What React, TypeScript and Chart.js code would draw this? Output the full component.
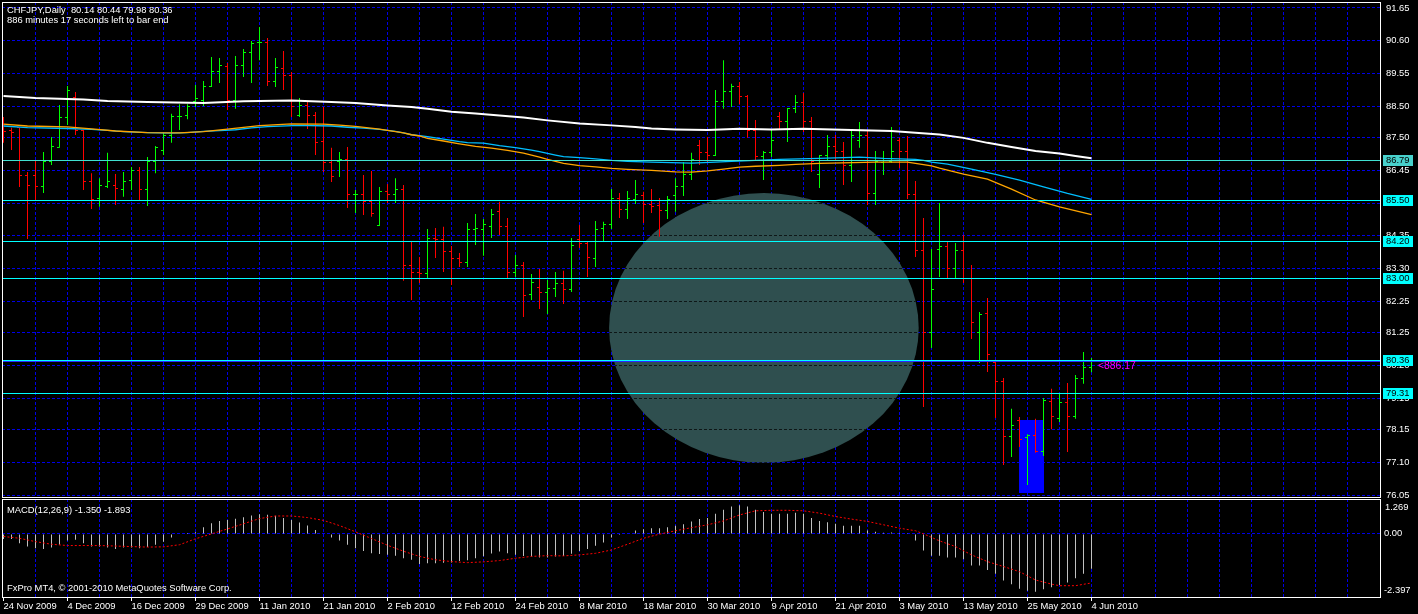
import React, { useEffect, useRef } from 'react';
import { Chart, registerables } from 'chart.js';

Chart.register(...registerables);

const FONT = '"Liberation Sans", Arial, sans-serif';
const FS = 9.4;
const GRID = '#0000e6';
const UP = '#00ff00';
const DOWN = '#ff0000';
const ELLIPSE = '#2f4f4f';

// ---- data ----
const dateLabels = ['24 Nov 2009', '4 Dec 2009', '16 Dec 2009', '29 Dec 2009', '11 Jan 2010', '21 Jan 2010', '2 Feb 2010', '12 Feb 2010', '24 Feb 2010', '8 Mar 2010', '18 Mar 2010', '30 Mar 2010', '9 Apr 2010', '21 Apr 2010', '3 May 2010', '13 May 2010', '25 May 2010', '4 Jun 2010'];

const opens = [87.90, 87.71, 87.81, 86.30, 86.27, 85.92, 86.72, 87.17, 88.13, 88.77,
  87.74, 86.08, 85.56, 85.92, 85.98, 85.85, 86.11, 86.43, 85.85, 86.72,
  87.07, 87.58, 88.16, 88.22, 88.67, 88.70, 89.12, 89.63, 89.79, 88.70,
  89.82, 90.21, 90.53, 90.56, 89.28, 89.70, 89.50, 88.22, 88.54, 88.22,
  87.36, 86.69, 86.72, 86.81, 85.66, 85.69, 85.44, 84.67, 85.76, 85.66,
  85.85, 83.39, 83.19, 83.13, 84.28, 84.22, 83.84, 83.64, 83.51, 84.54,
  84.57, 84.64, 85.12, 84.64, 83.19, 83.39, 82.46, 82.71, 82.55, 82.65,
  82.81, 82.62, 84.25, 84.12, 83.64, 84.60, 84.70, 85.56, 85.18, 85.53,
  85.63, 85.37, 85.31, 85.15, 85.63, 85.92, 86.33, 87.26, 87.01, 86.94,
  88.64, 88.96, 89.15, 88.80, 87.74, 86.88, 87.01, 88.19, 88.00, 88.42,
  88.61, 88.00, 86.33, 86.91, 87.20, 87.04, 86.62, 87.42, 87.58, 85.72,
  86.69, 86.72, 87.42, 87.04, 85.69, 83.87, 81.27, 83.93, 84.00, 83.29,
  83.87, 82.97, 81.27, 81.85, 80.31, 79.67, 77.91, 78.45, 77.88, 77.97,
  77.43, 79.06, 78.49, 79.00, 78.55, 79.77, 80.14];

const highs = [88.16, 87.81, 87.81, 86.40, 86.75, 87.04, 87.52, 88.54, 89.15, 88.96,
  87.74, 86.36, 86.20, 87.01, 86.33, 86.40, 86.56, 86.56, 86.88, 87.23,
  87.65, 88.26, 88.57, 88.57, 89.18, 89.31, 90.08, 90.05, 89.89, 90.11,
  90.34, 90.59, 91.04, 90.69, 90.05, 90.27, 89.60, 88.77, 88.64, 88.32,
  88.48, 87.17, 87.04, 87.20, 85.82, 86.30, 86.43, 85.92, 86.01, 86.20,
  85.98, 84.16, 83.67, 84.57, 84.60, 84.64, 84.03, 83.80, 84.76, 85.05,
  84.89, 85.21, 85.44, 84.92, 83.74, 83.51, 83.13, 83.29, 82.94, 83.19,
  83.23, 84.28, 84.70, 84.16, 84.83, 84.80, 85.85, 85.72, 85.79, 86.14,
  85.76, 85.85, 85.56, 85.63, 86.20, 86.72, 87.01, 87.42, 87.52, 89.02,
  89.98, 89.22, 89.28, 88.86, 88.06, 87.07, 87.74, 88.32, 88.45, 88.86,
  88.93, 88.16, 86.94, 87.58, 87.58, 87.36, 87.74, 88.00, 87.71, 87.07,
  87.07, 87.84, 87.49, 87.55, 86.11, 84.92, 83.93, 85.40, 84.16, 84.12,
  84.38, 83.42, 81.91, 82.36, 80.38, 79.80, 78.81, 78.55, 78.00, 78.49,
  79.16, 79.45, 79.32, 79.64, 79.89, 80.63, 80.44];

const lows = [87.33, 87.10, 85.92, 84.25, 85.50, 85.72, 86.62, 87.17, 87.90, 87.58,
  85.82, 85.21, 85.28, 85.88, 85.34, 85.60, 85.82, 85.50, 85.31, 86.36,
  86.94, 87.33, 87.74, 88.09, 88.48, 88.51, 89.12, 89.25, 88.38, 88.42,
  89.44, 89.25, 89.98, 89.15, 89.12, 89.02, 88.16, 88.16, 87.77, 86.94,
  86.40, 86.08, 86.24, 85.24, 85.08, 85.02, 84.96, 84.67, 85.40, 85.40,
  82.91, 82.30, 82.84, 83.00, 83.64, 83.19, 82.78, 83.35, 83.35, 84.06,
  83.71, 84.28, 84.38, 83.00, 83.03, 81.75, 82.30, 82.01, 81.85, 82.39,
  82.17, 82.55, 83.96, 83.03, 83.35, 84.19, 84.57, 84.92, 84.89, 85.37,
  84.76, 85.08, 84.32, 84.89, 85.12, 85.63, 86.14, 86.62, 86.69, 86.91,
  88.42, 88.48, 88.57, 87.49, 86.78, 86.14, 86.88, 87.74, 87.36, 88.29,
  87.68, 86.40, 85.88, 86.78, 86.75, 85.98, 86.08, 87.17, 85.34, 85.34,
  86.30, 86.69, 86.52, 85.53, 83.67, 78.87, 80.76, 83.03, 82.97, 83.00,
  82.84, 81.05, 80.28, 79.99, 78.52, 77.01, 77.27, 77.59, 76.37, 77.40,
  77.30, 78.16, 78.39, 77.43, 78.49, 79.61, 79.98];

const closes = [87.68, 87.65, 86.30, 85.98, 85.92, 86.72, 87.20, 88.13, 89.02, 87.74,
  86.08, 85.53, 85.95, 86.08, 85.88, 86.08, 86.43, 85.85, 86.72, 87.17,
  87.55, 88.16, 88.19, 88.51, 88.74, 89.15, 89.63, 89.82, 88.70, 89.82,
  90.21, 90.50, 90.56, 89.28, 89.73, 89.50, 88.51, 88.54, 88.22, 87.33,
  86.69, 86.24, 86.81, 85.66, 85.69, 85.44, 85.08, 85.76, 85.66, 85.85,
  83.39, 83.19, 83.13, 84.28, 84.22, 83.84, 83.61, 83.51, 84.54, 84.60,
  84.70, 85.05, 84.64, 83.19, 83.39, 82.43, 82.87, 82.55, 82.65, 82.81,
  82.62, 84.03, 84.12, 83.67, 84.57, 84.70, 85.56, 85.21, 85.56, 85.66,
  85.37, 85.28, 85.15, 85.53, 85.92, 86.33, 86.81, 87.01, 86.94, 88.64,
  88.96, 89.12, 88.80, 87.74, 86.88, 87.01, 87.39, 88.00, 88.42, 88.61,
  88.03, 86.72, 86.91, 87.20, 87.04, 86.62, 87.58, 87.55, 85.72, 86.72,
  86.75, 87.04, 87.04, 85.69, 83.87, 81.24, 82.62, 84.00, 83.32, 83.87,
  82.97, 81.59, 81.82, 80.54, 79.67, 77.91, 78.29, 77.84, 77.97, 77.43,
  79.09, 78.55, 79.00, 78.58, 79.77, 80.15, 80.36];

// moving averages: [bar index, price]
const maWhite = [[0, 88.83], [4, 88.77], [10, 88.72], [13, 88.67], [18, 88.64], [25, 88.61], [30, 88.66], [36, 88.69], [41, 88.64], [44, 88.61], [46, 88.57], [48, 88.53], [51, 88.48], [53, 88.42], [56, 88.33], [59, 88.27], [62, 88.21], [65, 88.14], [68, 88.05], [72, 87.95], [76, 87.89], [79, 87.84], [81, 87.79], [84, 87.76], [88, 87.74], [92, 87.78], [96, 87.76], [100, 87.78], [106, 87.74], [111, 87.71], [114, 87.65], [117, 87.60], [120, 87.49], [123, 87.33], [126, 87.20], [129, 87.07], [132, 86.99], [134, 86.91], [136, 86.84]];

const maOrange = [[0, 87.93], [3, 87.87], [8, 87.84], [11, 87.78], [14, 87.71], [18, 87.66], [22, 87.65], [25, 87.69], [28, 87.77], [32, 87.88], [36, 87.94], [40, 87.93], [42, 87.90], [44, 87.86], [47, 87.77], [49, 87.69], [50, 87.65], [51, 87.59], [52, 87.55], [53, 87.47], [55, 87.39], [57, 87.30], [59, 87.22], [61, 87.16], [63, 87.09], [65, 87.00], [66, 86.94], [67, 86.87], [68, 86.80], [69, 86.74], [70, 86.67], [72, 86.60], [74, 86.56], [76, 86.51], [78, 86.48], [81, 86.45], [84, 86.40], [86, 86.39], [88, 86.43], [90, 86.49], [91, 86.52], [92, 86.55], [94, 86.58], [97, 86.61], [99, 86.64], [102, 86.67], [109, 86.71], [113, 86.71], [114, 86.67], [115, 86.63], [116, 86.59], [117, 86.52], [120, 86.33], [123, 86.17], [126, 85.85], [129, 85.50], [132, 85.28], [136, 85.03]];

const maBlue = [[0, 87.87], [3, 87.82], [8, 87.79], [11, 87.76], [13, 87.73], [15, 87.69], [18, 87.66], [21, 87.64], [23, 87.66], [25, 87.70], [27, 87.72], [29, 87.75], [31, 87.81], [33, 87.85], [37, 87.89], [41, 87.87], [43, 87.83], [45, 87.80], [47, 87.76], [48, 87.73], [49, 87.70], [50, 87.65], [51, 87.59], [52, 87.56], [53, 87.53], [54, 87.49], [55, 87.45], [56, 87.41], [57, 87.37], [58, 87.34], [60, 87.32], [61, 87.28], [62, 87.24], [63, 87.21], [64, 87.18], [65, 87.14], [66, 87.10], [67, 87.05], [68, 86.99], [69, 86.94], [70, 86.89], [72, 86.86], [74, 86.82], [76, 86.77], [78, 86.74], [81, 86.71], [86, 86.68], [89, 86.71], [91, 86.74], [94, 86.77], [97, 86.80], [102, 86.83], [107, 86.87], [110, 86.83], [114, 86.80], [115, 86.77], [116, 86.71], [118, 86.65], [121, 86.49], [124, 86.32], [127, 86.14], [130, 85.92], [133, 85.71], [136, 85.52]];

const macdHist = [-0.20, -0.20, -0.36, -0.49, -0.55, -0.58, -0.53, -0.42, -0.26, -0.23,
  -0.36, -0.49, -0.49, -0.53, -0.58, -0.53, -0.53, -0.55, -0.51, -0.42,
  -0.30, -0.14, -0.02, 0.03, 0.06, 0.26, 0.41, 0.50, 0.54, 0.58,
  0.64, 0.71, 0.76, 0.74, 0.70, 0.61, 0.54, 0.44, 0.32, 0.15,
  0.01, -0.14, -0.26, -0.42, -0.55, -0.66, -0.75, -0.78, -0.81, -0.84,
  -0.94, -1.00, -1.16, -1.13, -1.13, -1.11, -1.10, -1.05, -1.02, -0.94,
  -0.86, -0.76, -0.68, -0.75, -0.81, -0.85, -0.87, -0.91, -0.91, -0.87,
  -0.85, -0.77, -0.66, -0.58, -0.46, -0.33, -0.14, -0.04, 0.01, 0.13,
  0.18, 0.22, 0.22, 0.26, 0.31, 0.37, 0.48, 0.57, 0.61, 0.78,
  0.93, 1.06, 1.10, 1.06, 0.93, 0.84, 0.78, 0.78, 0.78, 0.82,
  0.78, 0.61, 0.50, 0.45, 0.39, 0.31, 0.31, 0.31, 0.13, 0.08,
  0.04, 0.05, 0.04, 0.02, -0.26, -0.64, -0.84, -0.84, -0.91, -0.91,
  -0.98, -1.22, -1.22, -1.39, -1.54, -1.80, -1.94, -2.12, -2.19, -2.23,
  -2.14, -2.06, -1.97, -1.88, -1.71, -1.54, -1.35];

const macdSignal = [[0, -0.10], [2, -0.17], [4, -0.30], [6, -0.40], [8, -0.45], [12, -0.45], [16, -0.49], [18, -0.51], [20, -0.50], [22, -0.42], [24, -0.19], [26, 0.00], [28, 0.19], [30, 0.39], [32, 0.59], [34, 0.69], [36, 0.69], [38, 0.63], [40, 0.52], [42, 0.32], [44, 0.08], [46, -0.18], [48, -0.44], [50, -0.67], [52, -0.87], [54, -1.00], [56, -1.07], [58, -1.11], [60, -1.08], [62, -1.03], [64, -0.94], [66, -0.87], [68, -0.84], [70, -0.85], [72, -0.81], [74, -0.75], [76, -0.62], [78, -0.40], [80, -0.17], [82, -0.01], [84, 0.12], [86, 0.24], [88, 0.35], [90, 0.50], [92, 0.73], [94, 0.89], [96, 0.91], [98, 0.91], [100, 0.89], [102, 0.80], [104, 0.67], [106, 0.57], [108, 0.48], [110, 0.35], [112, 0.22], [114, 0.12], [115, 0.00], [117, -0.27], [119, -0.49], [121, -0.81], [123, -1.07], [125, -1.26], [127, -1.46], [129, -1.78], [131, -1.94], [132, -2.00], [134, -2.00], [136, -1.893]];

const priceTickLabels = ['91.65', '90.60', '89.55', '88.50', '87.50', '86.45', '85.40', '84.35', '83.30', '82.25', '81.25', '80.20', '79.15', '78.15', '77.10', '76.05'];
const priceMax = 91.842;
const priceMin = 75.986;
const macdMax = 1.346;
const macdMin = -2.436;
const macdExtremes = [1.269, -2.397];
const xMin = -0.1875;
const xMax = 172.0625;
const barsPerGrid = 4;
const barsPerLabel = 8;
const lastGridBar = 168;

const hlinePrices = [86.79, 85.50, 84.20, 83.00, 80.36, 79.31];
const hlineColors = ['#40e0d0', '#00ffff', '#00ffff', '#00ffff', '#00ffff', '#00ffff'];
const hlineBoxColors = ['#48d1cc', '#00ffff', '#00ffff', '#00ffff', '#00ffff', '#00ffff'];
const bidPrice = 80.36;
const ellipseBars = [75.7, 114.4];
const ellipsePrices = [85.72, 77.08];
const rectBars = [127, 130];
const rectPrices = [78.46, 76.12];
const timerNote = { bar: 136.8, price: 80.17, text: '<886.17' };
const titleLines = ['CHFJPY,Daily  80.14 80.44 79.98 80.36', '886 minutes 17 seconds left to bar end'];
const macdTitle = 'MACD(12,26,9) -1.350 -1.893';
const copyright = 'FxPro MT4, \u00a9 2001-2010 MetaQuotes Software Corp.';

// ---- helpers ----
const gridTicks = (withZero: boolean) => {
  const out: any[] = [];
  for (let v = withZero ? 0 : barsPerGrid; v <= lastGridBar; v += barsPerGrid) out.push({ value: v });
  return out;
};
const labelFor = (v: number) => {
  if (v % barsPerLabel === 0 && v / barsPerLabel < dateLabels.length) return dateLabels[v / barsPerLabel];
  return '';
};
const isUp = (i: number) => closes[i] >= opens[i];

function tickImage(color: string, side: string) {
  const c = document.createElement('canvas');
  c.width = 5;
  c.height = 1;
  const g = c.getContext('2d')!;
  g.fillStyle = color;
  g.fillRect(side === 'open' ? 0 : 3, 0, 2, 1);
  return c;
}

const zeroPad = (s: any) => {
  s.paddingTop = 0;
  s.paddingBottom = 0;
  s.paddingLeft = 0;
  s.paddingRight = 0;
};

function ellipseGeom(chart: any) {
  const xs = chart.scales.x;
  const ys = chart.scales.y;
  const ex1 = xs.getPixelForValue(ellipseBars[0]);
  const ex2 = xs.getPixelForValue(ellipseBars[1]);
  const ey1 = ys.getPixelForValue(ellipsePrices[0]);
  const ey2 = ys.getPixelForValue(ellipsePrices[1]);
  return { cx: (ex1 + ex2) / 2, cy: (ey1 + ey2) / 2, rx: Math.abs(ex2 - ex1) / 2, ry: Math.abs(ey2 - ey1) / 2, x1: ex1, x2: ex2 };
}

// vertical grid of the price panel, painted on a layer beneath the chart canvas
function makeUnderGrid(layer: HTMLCanvasElement) {
  return {
    id: 'underGrid',
    afterDraw(chart: any) {
      const g = layer.getContext('2d')!;
      const xs = chart.scales.x;
      const a = chart.chartArea;
      g.clearRect(0, 0, layer.width, layer.height);
      g.fillStyle = GRID;
      gridTicks(false).forEach((t: any) => {
        const px = Math.round(xs.getPixelForValue(t.value) - 0.5);
        for (let y = Math.ceil(a.top); y < a.bottom; y += 5) g.fillRect(px, y, 1, Math.min(3, a.bottom - y));
      });
    },
  };
}

const mainPlugin = {
  id: 'mainDecor',
  beforeDatasetsDraw(chart: any) {
    const { ctx, chartArea: a } = chart;
    const xs = chart.scales.x;
    const ys = chart.scales.y;
    const e = ellipseGeom(chart);
    ctx.save();
    ctx.beginPath();
    ctx.rect(a.left, a.top, a.right - a.left, a.bottom - a.top);
    ctx.clip();
    ctx.beginPath();
    ctx.ellipse(e.cx, e.cy, e.rx, e.ry, 0, 0, Math.PI * 2);
    ctx.fillStyle = ELLIPSE;
    ctx.fill();
    ctx.save();
    ctx.clip();
    ctx.fillStyle = 'rgba(0,0,0,0.7)';
    priceTickLabels.forEach((t) => {
      const py = Math.round(ys.getPixelForValue(parseFloat(t)) - 0.5);
      for (let x = Math.floor(e.x1); x < e.x2; x += 5) ctx.fillRect(x, py, 3, 1);
    });
    ctx.restore();
    const rx1 = Math.floor(xs.getPixelForValue(rectBars[0]));
    const rx2 = Math.ceil(xs.getPixelForValue(rectBars[1]));
    const ry1 = Math.round(ys.getPixelForValue(rectPrices[0]));
    const ry2 = Math.round(ys.getPixelForValue(rectPrices[1]));
    ctx.fillStyle = '#0000ff';
    ctx.fillRect(rx1, ry1, rx2 - rx1, ry2 - ry1);
    ctx.restore();
  },
  afterDatasetsDraw(chart: any) {
    const { ctx, chartArea: a } = chart;
    const xs = chart.scales.x;
    const ys = chart.scales.y;
    ctx.save();
    ctx.beginPath();
    ctx.rect(a.left, a.top, a.right - a.left, a.bottom - a.top);
    ctx.clip();
    hlinePrices.forEach((p, k) => {
      const row = Math.round(ys.getPixelForValue(p));
      ctx.fillStyle = hlineColors[k];
      ctx.fillRect(a.left, row, a.right - a.left, 1);
    });
    const bidRow = Math.round(ys.getPixelForValue(bidPrice));
    ctx.fillStyle = '#2a2aff';
    ctx.fillRect(a.left, bidRow + 1, a.right - a.left, 1);
    ctx.fillStyle = '#ff00ff';
    ctx.font = `10.4px ${FONT}`;
    ctx.textBaseline = 'middle';
    ctx.textAlign = 'left';
    ctx.fillText(timerNote.text, xs.getPixelForValue(timerNote.bar), ys.getPixelForValue(timerNote.price));
    ctx.restore();
  },
  afterDraw(chart: any) {
    const { ctx, chartArea: a } = chart;
    const ys = chart.scales.y;
    ctx.save();
    ctx.font = `${FS}px ${FONT}`;
    ctx.textBaseline = 'middle';
    ctx.textAlign = 'left';
    hlinePrices.forEach((p, k) => {
      const row = Math.round(ys.getPixelForValue(p));
      ctx.fillStyle = hlineBoxColors[k];
      ctx.fillRect(a.right + 3, row - 5, 30, 11);
      ctx.fillStyle = '#000';
      ctx.fillText(p.toFixed(2), a.right + 6, row + 0.5);
    });
    ctx.fillStyle = '#ffffff';
    ctx.fillText(titleLines[0], 7, 10.5);
    ctx.fillText(titleLines[1], 7, 20.5);
    ctx.strokeStyle = '#ffffff';
    ctx.lineWidth = 1;
    ctx.setLineDash([]);
    ctx.strokeRect(a.left + 0.5, a.top + 0.5, a.right - a.left, a.bottom - a.top);
    ctx.restore();
  },
};

const macdPlugin = {
  id: 'macdDecor',
  afterDraw(chart: any) {
    const { ctx, chartArea: a } = chart;
    const ys = chart.scales.y;
    ctx.save();
    ctx.font = `${FS}px ${FONT}`;
    ctx.textBaseline = 'middle';
    ctx.textAlign = 'left';
    ctx.fillStyle = '#ffffff';
    ctx.fillText(macdTitle, 7, 11);
    ctx.fillText(copyright, 7, 89.5);
    ctx.fillText(macdExtremes[0].toFixed(3), a.right + 5, ys.getPixelForValue(macdExtremes[0]) + 6);
    ctx.fillText(macdExtremes[1].toFixed(3), a.right + 4, ys.getPixelForValue(macdExtremes[1]) - 6);
    ctx.strokeStyle = '#ffffff';
    ctx.lineWidth = 1;
    ctx.setLineDash([]);
    ctx.strokeRect(a.left + 0.5, a.top + 0.5, a.right - a.left, a.bottom - a.top);
    ctx.restore();
  },
};

export default function App() {
  const gridRef = useRef<HTMLCanvasElement>(null);
  const mainRef = useRef<HTMLCanvasElement>(null);
  const macdRef = useRef<HTMLCanvasElement>(null);

  useEffect(() => {
    document.body.style.margin = '0';
    document.body.style.background = '#000';
    document.body.style.overflow = 'hidden';

    const imgs = {
      openUp: tickImage(UP, 'open'),
      openDown: tickImage(DOWN, 'open'),
      closeUp: tickImage(UP, 'close'),
      closeDown: tickImage(DOWN, 'close'),
    };

    const main = new Chart(mainRef.current!, {
      type: 'bar',
      data: {
        datasets: [
          { type: 'line', label: 'MA slow', data: maWhite.map(([x, y]) => ({ x, y })), borderColor: '#ffffff', borderWidth: 2, pointRadius: 0, tension: 0, order: 0 },
          { type: 'line', label: 'MA orange', data: maOrange.map(([x, y]) => ({ x, y })), borderColor: '#ffa500', borderWidth: 1.3, pointRadius: 0, tension: 0, order: 1 },
          { type: 'line', label: 'MA blue', data: maBlue.map(([x, y]) => ({ x, y })), borderColor: '#00bfff', borderWidth: 1.3, pointRadius: 0, tension: 0, order: 2 },
          { type: 'line', label: 'open', data: opens.map((y, i) => ({ x: i, y })), showLine: false, pointRadius: 1, pointStyle: (c: any) => (isUp(c.dataIndex) ? imgs.openUp : imgs.openDown), order: 3 },
          { type: 'line', label: 'close', data: closes.map((y, i) => ({ x: i, y })), showLine: false, pointRadius: 1, pointStyle: (c: any) => (isUp(c.dataIndex) ? imgs.closeUp : imgs.closeDown), order: 4 },
          { type: 'bar', label: 'range', data: highs.map((h, i) => ({ x: i, y: [lows[i], h] })), backgroundColor: highs.map((_, i) => (isUp(i) ? UP : DOWN)), barThickness: 1, grouped: false, inflateAmount: 0, borderWidth: 0, order: 5 },
        ] as any,
      },
      options: {
        responsive: false,
        animation: false,
        devicePixelRatio: 1,
        events: [],
        layout: { autoPadding: false, padding: { left: 2, top: 2, right: 0, bottom: 2 } },
        plugins: { legend: { display: false }, tooltip: { enabled: false } },
        scales: {
          x: {
            type: 'linear', min: xMin, max: xMax, offset: false,
            afterBuildTicks: (s: any) => { s.ticks = gridTicks(false); },
            afterFit: (s: any) => { s.height = 0; zeroPad(s); },
            grid: { display: false, drawTicks: false, offset: false },
            border: { display: false },
            ticks: { display: false },
          },
          y: {
            type: 'linear', position: 'right', min: priceMin, max: priceMax,
            afterBuildTicks: (s: any) => { s.ticks = priceTickLabels.map((t) => ({ value: parseFloat(t) })); },
            afterFit: (s: any) => { s.width = 38; zeroPad(s); },
            grid: { color: GRID, lineWidth: 1, drawTicks: false },
            border: { display: false, dash: [3, 2] },
            ticks: { color: '#ffffff', padding: 6, autoSkip: false, font: { family: FONT, size: FS, lineHeight: 0.2 }, callback: (v: any) => Number(v).toFixed(2) },
          },
        },
      } as any,
      plugins: [makeUnderGrid(gridRef.current!), mainPlugin],
    });

    const macd = new Chart(macdRef.current!, {
      type: 'bar',
      data: {
        datasets: [
          { type: 'line', label: 'Signal', data: macdSignal.map(([x, y]) => ({ x, y })), borderColor: '#ff0000', borderWidth: 1, borderDash: [2, 2], pointRadius: 0, tension: 0, order: 0 },
          { type: 'bar', label: 'MACD', data: macdHist.map((y, i) => ({ x: i, y })), backgroundColor: '#c0c0c0', barThickness: 1, grouped: false, inflateAmount: 0, borderWidth: 0, order: 1 },
        ] as any,
      },
      options: {
        responsive: false,
        animation: false,
        devicePixelRatio: 1,
        events: [],
        layout: { autoPadding: false, padding: { left: 2, top: 0, right: 0, bottom: 0 } },
        plugins: { legend: { display: false }, tooltip: { enabled: false } },
        scales: {
          x: {
            type: 'linear', min: xMin, max: xMax, offset: false,
            afterBuildTicks: (s: any) => { s.ticks = gridTicks(true); },
            afterFit: (s: any) => { s.height = 17; zeroPad(s); },
            grid: {
              color: (c: any) => (c.tick && c.tick.value === 0 ? 'rgba(0,0,0,0)' : GRID),
              lineWidth: 1, drawTicks: true, tickLength: 4, tickWidth: 1, offset: false,
              tickColor: (c: any) => (c.tick && labelFor(c.tick.value) ? '#ffffff' : 'rgba(0,0,0,0)'),
            },
            border: { display: false, dash: [3, 2] },
            ticks: { color: '#ffffff', align: 'start', padding: 0, autoSkip: false, maxRotation: 0, minRotation: 0, font: { family: FONT, size: FS }, callback: (v: any) => labelFor(Number(v)) },
          },
          y: {
            type: 'linear', position: 'right', min: macdMin, max: macdMax,
            afterBuildTicks: (s: any) => { s.ticks = [{ value: 0 }]; },
            afterFit: (s: any) => { s.width = 38; zeroPad(s); },
            grid: { color: GRID, lineWidth: 1, drawTicks: false },
            border: { display: false, dash: [3, 2] },
            ticks: { color: '#ffffff', padding: 4, autoSkip: false, font: { family: FONT, size: FS, lineHeight: 0.2 }, callback: (v: any) => Number(v).toFixed(2) },
          },
        },
      } as any,
      plugins: [macdPlugin],
    });

    return () => {
      main.destroy();
      macd.destroy();
    };
  }, []);

  return (
    <div style={{ position: 'relative', width: 1418, height: 614, background: '#000', overflow: 'hidden' }}>
      <canvas ref={gridRef} width={1418} height={499} style={{ position: 'absolute', left: 0, top: 0 }} />
      <canvas ref={mainRef} width={1418} height={499} style={{ position: 'absolute', left: 0, top: 0 }} />
      <canvas ref={macdRef} width={1418} height={115} style={{ position: 'absolute', left: 0, top: 499 }} />
    </div>
  );
}
